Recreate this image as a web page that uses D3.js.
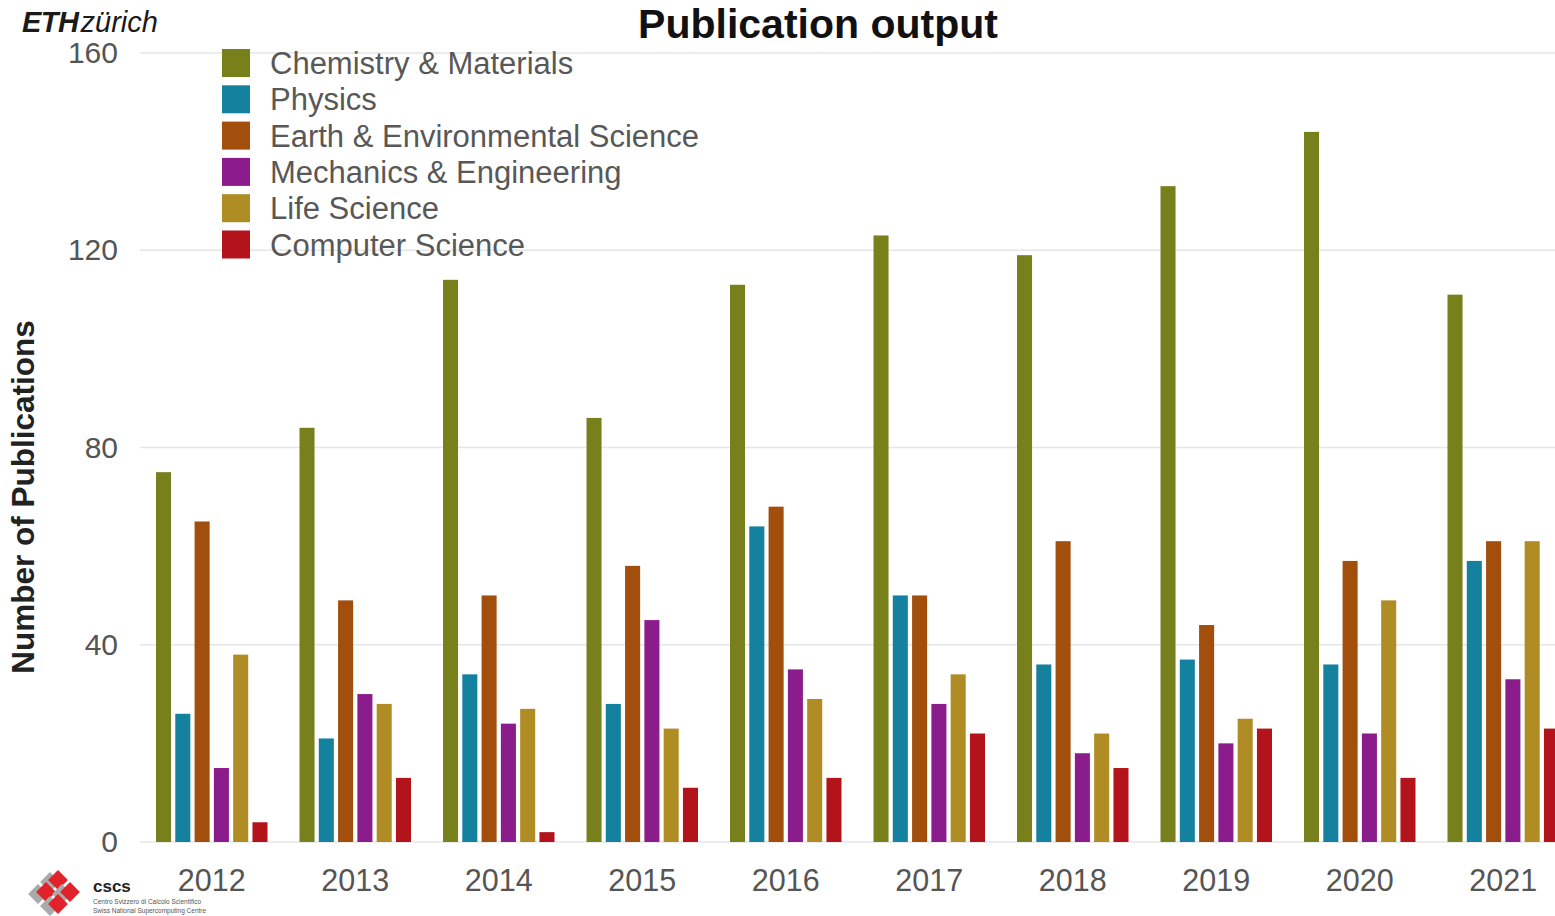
<!DOCTYPE html>
<html>
<head>
<meta charset="utf-8">
<script src="https://cdn.jsdelivr.net/npm/d3@7"></script>
<style>
    body { margin: 0; background: #fff; }
    svg { display: block; font-family: "Liberation Sans", Arial, sans-serif; }
</style>
</head>
<body>
<div id="chart"></div>
<script>
// data
const years = ["2012", "2013", "2014", "2015", "2016", "2017", "2018", "2019", "2020", "2021"];
const categories = ["Chemistry & Materials", "Physics", "Earth & Environmental Science",
    "Mechanics & Engineering", "Life Science", "Computer Science"];
const colors = ["#78801c", "#14819f", "#a24e0c", "#8a1c8b", "#b08c25", "#b3141c"];

const chemistry = [75, 84, 114, 86, 113, 123, 119, 133, 144, 111];
const physics   = [26, 21, 34, 28, 64, 50, 36, 37, 36, 57];
const earth     = [65, 49, 50, 56, 68, 50, 61, 44, 57, 61];
const mechanics = [15, 30, 24, 45, 35, 28, 18, 20, 22, 33];
const life      = [38, 28, 27, 23, 29, 34, 22, 25, 49, 61];
const computer  = [4, 13, 2, 11, 13, 22, 15, 23, 13, 23];
const yTicks = [0, 40, 80, 120, 160];

const series = [chemistry, physics, earth, mechanics, life, computer];

const width = 1555, height = 916;

let svg = d3.select("#chart").append("svg")
    .attr("width", width)
    .attr("height", height);

// scales
let y = d3.scaleLinear()
    .domain([0, 160])
    .range([842, 53]);

// 10 - 0.223 + 2*0.1115 = 10 -> step = 143.5
let x = d3.scaleBand()
    .domain(years)
    .range([140, 1575])
    .paddingInner(0.223)
    .paddingOuter(0.1115);

let xInner = d3.scaleBand()
    .domain(categories)
    .range([0, x.bandwidth()])
    .paddingInner(0.22);

// gridlines
svg.selectAll(".grid")
    .data(yTicks)
    .enter()
    .append("line")
    .attr("class", "grid")
    .attr("x1", 140)
    .attr("x2", width)
    .attr("y1", d => y(d))
    .attr("y2", d => y(d))
    .attr("stroke", "#e6e6e6")
    .attr("stroke-width", 1.5);

// y axis
let yAxis = svg.append("g")
    .attr("transform", "translate(140,0)")
    .call(d3.axisLeft(y).tickValues(yTicks).tickSize(0).tickPadding(22));
yAxis.select(".domain").remove();
yAxis.selectAll("text")
    .style("font-size", "30px")
    .style("font-family", "'Liberation Sans', Arial, sans-serif")
    .attr("fill", "#555");

// x axis
let xAxis = svg.append("g")
    .attr("transform", "translate(0,842)")
    .call(d3.axisBottom(x).tickSize(0).tickPadding(27));
xAxis.select(".domain").remove();
xAxis.selectAll("text")
    .style("font-size", "30.5px")
    .style("font-family", "'Liberation Sans', Arial, sans-serif")
    .attr("fill", "#555");

// bars
let rows = [];
years.forEach((yr, i) => {
    categories.forEach((c, j) => {
        rows.push({year: yr, cat: c, value: series[j][i], color: colors[j]});
    });
});

svg.append("g")
    .selectAll("rect")
    .data(rows)
    .enter()
    .append("rect")
    .attr("x", d => x(d.year) + xInner(d.cat))
    .attr("y", d => y(d.value))
    .attr("width", xInner.bandwidth())
    .attr("height", d => y(0) - y(d.value))
    .attr("fill", d => d.color);

// legend
let legend = svg.append("g");
categories.forEach((c, i) => {
    legend.append("rect")
        .attr("x", 222)
        .attr("y", 49 + i * 36.3)
        .attr("width", 28)
        .attr("height", 28)
        .attr("fill", colors[i]);
    legend.append("text")
        .attr("x", 270)
        .attr("y", 74 + i * 36.3)
        .style("font-size", "31px")
        .attr("fill", "#585858")
        .text(c);
});

// title
svg.append("text")
    .attr("x", 818)
    .attr("y", 38)
    .attr("text-anchor", "middle")
    .style("font-size", "41px")
    .style("font-weight", "bold")
    .attr("fill", "#111")
    .text("Publication output");

// y label
svg.append("text")
    .attr("transform", "translate(34,497) rotate(-90)")
    .attr("text-anchor", "middle")
    .style("font-size", "31.5px")
    .style("font-weight", "bold")
    .attr("fill", "#222")
    .text("Number of Publications");

// ETH logo
let eth = svg.append("text")
    .attr("x", 22)
    .attr("y", 32)
    .style("font-size", "29px")
    .style("font-style", "italic")
    .attr("fill", "#1a1a1a");
eth.append("tspan").style("font-weight", "bold").style("letter-spacing", "-0.5px").text("ETH");
eth.append("tspan").attr("dx", 2).text("zürich");

// CSCS logo
let cscs = svg.append("g");
const diamonds = [[58, 880], [46, 892], [70, 892], [58, 904]];
diamonds.forEach(p => {
    cscs.append("rect")
        .attr("x", -7).attr("y", -7)
        .attr("width", 14).attr("height", 14)
        .attr("fill", "#aaa")
        .attr("transform", `translate(${p[0] - 8},${p[1] + 2}) rotate(45)`);
    cscs.append("rect")
        .attr("x", -7).attr("y", -7)
        .attr("width", 14).attr("height", 14)
        .attr("fill", "#e0232a")
        .attr("transform", `translate(${p[0]},${p[1]}) rotate(45)`);
});
cscs.append("text")
    .attr("x", 93).attr("y", 892)
    .style("font-size", "17px")
    .style("font-weight", "bold")
    .attr("fill", "#222")
    .text("cscs");
cscs.append("text")
    .attr("x", 93).attr("y", 904)
    .style("font-size", "6.5px")
    .attr("fill", "#555")
    .text("Centro Svizzero di Calcolo Scientifico");
cscs.append("text")
    .attr("x", 93).attr("y", 913)
    .style("font-size", "6.5px")
    .attr("fill", "#555")
    .text("Swiss National Supercomputing Centre");
</script>
</body>
</html>
